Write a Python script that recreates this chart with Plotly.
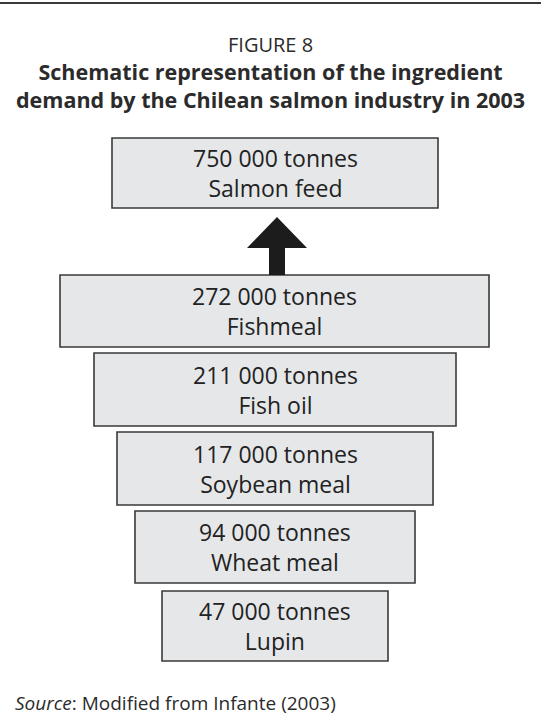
import plotly.graph_objects as go

# values shown in the boxes (tonnes) and their labels, top to bottom
amounts = ["750 000", "272 000", "211 000", "117 000", "94 000", "47 000"]
items = ["Salmon feed", "Fishmeal", "Fish oil", "Soybean meal", "Wheat meal", "Lupin"]

# schematic box geometry in page pixels (x0, x1, y0, y1) - layout only
boxes = [
    (112, 438, 138, 208),
    (60, 489, 275, 347),
    (94, 456, 353, 426),
    (117, 433, 432, 505),
    (135, 415, 511, 583),
    (162, 388, 591, 661),
]

W, H = 541, 720
font = "Open Sans"
dark = "#2b2b2b"

fig = go.Figure()
# invisible trace so the axes exist
fig.add_trace(go.Scatter(x=[0, W], y=[0, H], mode="markers",
                         marker=dict(opacity=0), hoverinfo="skip", showlegend=False))

shapes = []
annotations = []

# rule across the top
shapes.append(dict(type="line", x0=0, x1=W, y0=3, y1=3,
                   line=dict(color="#3a3a3a", width=2)))

for (x0, x1, y0, y1), amt, item in zip(boxes, amounts, items):
    shapes.append(dict(type="rect", x0=x0, x1=x1, y0=y0, y1=y1,
                       fillcolor="#e6e7e9", line=dict(color="#3a3a3a", width=1.6),
                       layer="below"))
    annotations.append(dict(x=(x0 + x1) / 2, y=(y0 + y1) / 2,
                            text=f"{amt} tonnes<br>{item}", showarrow=False,
                            font=dict(family=font, size=23, color="#222222"),
                            xanchor="center", yanchor="middle"))

# upward arrow from fishmeal box into salmon feed box
shapes.append(dict(type="path",
                   path="M 269 275 L 269 248 L 247 248 L 277 217 L 307 248 L 285 248 L 285 275 Z",
                   fillcolor="#1c1c1c", line=dict(color="#1c1c1c", width=0)))

annotations += [
    dict(x=W / 2, y=44, text="FIGURE 8", showarrow=False,
         font=dict(family=font, size=20, color=dark), xanchor="center", yanchor="middle"),
    dict(x=W / 2, y=85,
         text="<b>Schematic representation of the ingredient<br>demand by the Chilean salmon industry in 2003</b>",
         showarrow=False, font=dict(family=font, size=21.5, color=dark),
         xanchor="center", yanchor="middle"),
    dict(x=13, y=703, text="<i>Source</i>: Modified from Infante (2003)", showarrow=False,
         font=dict(family=font, size=19, color=dark), xanchor="left", yanchor="middle"),
]

fig.update_layout(
    width=W, height=H,
    margin=dict(l=0, r=0, t=0, b=0),
    paper_bgcolor="white", plot_bgcolor="white",
    xaxis=dict(range=[0, W], visible=False, fixedrange=True),
    yaxis=dict(range=[H, 0], visible=False, fixedrange=True),
    shapes=shapes, annotations=annotations,
    showlegend=False,
)

# drop the browser's default body margin so page pixels line up with the figure
fig.write_html("out.html", config={"displayModeBar": False},
               post_script="document.body.style.margin='0';")
